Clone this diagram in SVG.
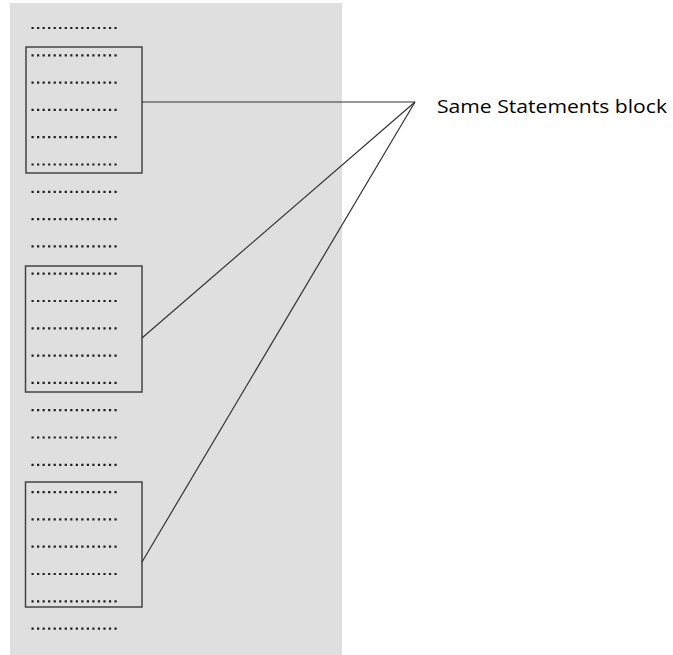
<svg xmlns="http://www.w3.org/2000/svg" xmlns:xlink="http://www.w3.org/1999/xlink" width="673" height="655" viewBox="0 0 673 655">
  <style>
    .panel { fill: #e0dfe0; }
    .dots { fill: none; stroke: #1e1e1e; stroke-width: 2.2; stroke-dasharray: 2.2 3.33; }
    .block { fill: none; stroke: #444; stroke-width: 1.5; }
    .link { fill: none; stroke: #333; stroke-width: 1.2; }
    .label { font-family: "Open Sans", "Liberation Sans", sans-serif; font-size: 19px; fill: #000; }
  </style>
  <defs>
    <!-- one statement line drawn as a row of dots -->
    <line id="stmt" class="dots" x1="31.5" y1="0" x2="117.5" y2="0"/>
  </defs>

  <rect class="panel" x="10" y="3" width="332" height="652"/>

  <g id="statements">
    <use xlink:href="#stmt" y="28"/>
    <use xlink:href="#stmt" y="55.3"/>
    <use xlink:href="#stmt" y="82.6"/>
    <use xlink:href="#stmt" y="109.9"/>
    <use xlink:href="#stmt" y="137.2"/>
    <use xlink:href="#stmt" y="164.5"/>
    <use xlink:href="#stmt" y="191.8"/>
    <use xlink:href="#stmt" y="219.1"/>
    <use xlink:href="#stmt" y="246.4"/>
    <use xlink:href="#stmt" y="273.7"/>
    <use xlink:href="#stmt" y="301"/>
    <use xlink:href="#stmt" y="328.3"/>
    <use xlink:href="#stmt" y="355.6"/>
    <use xlink:href="#stmt" y="382.9"/>
    <use xlink:href="#stmt" y="410.2"/>
    <use xlink:href="#stmt" y="437.5"/>
    <use xlink:href="#stmt" y="464.8"/>
    <use xlink:href="#stmt" y="492.1"/>
    <use xlink:href="#stmt" y="519.4"/>
    <use xlink:href="#stmt" y="546.7"/>
    <use xlink:href="#stmt" y="574"/>
    <use xlink:href="#stmt" y="601.3"/>
    <use xlink:href="#stmt" y="628.6"/>
  </g>

  <g id="block1"><rect class="block" x="26" y="47" width="116" height="126"/></g>
  <g id="block2"><rect class="block" x="25.5" y="266" width="116.5" height="126"/></g>
  <g id="block3"><rect class="block" x="25.5" y="482" width="116.5" height="125"/></g>

  <g id="connectors">
    <line class="link" x1="142" y1="102" x2="415" y2="102"/>
    <line class="link" x1="142" y1="338" x2="415" y2="102"/>
    <line class="link" x1="142" y1="562" x2="415" y2="102"/>
  </g>

  <g id="label">
    <text class="label" x="437" y="113" textLength="230" lengthAdjust="spacingAndGlyphs">Same Statements block</text>
  </g>
</svg>
